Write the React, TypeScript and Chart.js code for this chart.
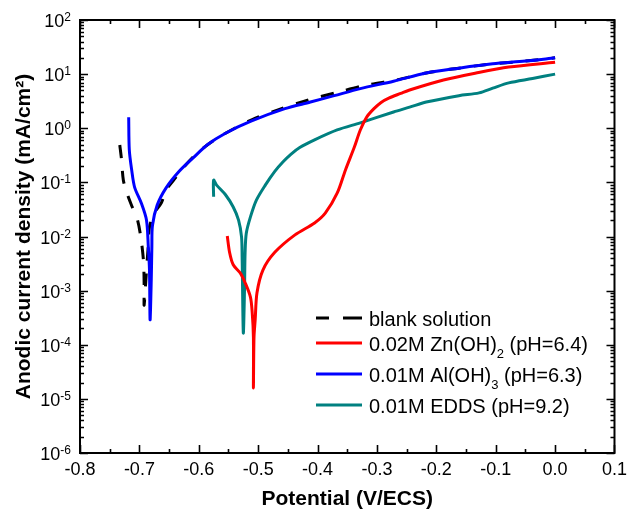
import React, { useEffect, useRef } from "react";
import { Chart, registerables } from "chart.js";

Chart.register(...registerables);

// ---------- data (potential in V/ECS, current density in mA/cm²) ----------
const blankV = [
  -0.733, -0.730, -0.727, -0.720, -0.712, -0.703, -0.697, -0.693, -0.692, -0.692,
  -0.688, -0.685, -0.683, -0.675, -0.663, -0.655, -0.638, -0.622, -0.605, -0.588,
  -0.563, -0.510, -0.463, -0.415, -0.367, -0.317, -0.267, -0.217, -0.162, -0.105,
  -0.050, 0.0,
];
const blankI = [
  0.49, 0.26, 0.11, 0.059, 0.035, 0.020, 0.0087, 0.0034, 0.00126, 0.00054,
  0.0024, 0.0069, 0.015, 0.027, 0.042, 0.072, 0.126, 0.21, 0.33, 0.47,
  0.72, 1.45, 2.25, 3.35, 4.6, 6.3, 7.8, 10.5, 12.9, 15.5,
  17.4, 20,
];

const znV = [
  -0.552, -0.548, -0.542, -0.530, -0.522, -0.513, -0.510, -0.508, -0.508,
  -0.507, -0.505, -0.502, -0.492, -0.472, -0.438, -0.405, -0.387, -0.367, -0.353,
  -0.338, -0.328, -0.317, -0.305, -0.293, -0.280, -0.260, -0.245, -0.188, -0.133,
  -0.078, 0.0,
];
const znI = [
  0.0102, 0.0050, 0.0030, 0.0021, 0.0014, 0.00076, 0.00039, 0.000138, 0.0000158,
  0.000138, 0.00029, 0.00091, 0.0024, 0.0051, 0.0107, 0.0178, 0.027, 0.063, 0.17,
  0.45, 0.93, 1.62, 2.3, 3.0, 3.6, 4.4, 5.1, 7.8, 10.5,
  13.5, 16.6,
];

const alV = [
  -0.718, -0.717, -0.713, -0.708, -0.697, -0.688, -0.685, -0.683, -0.682,
  -0.680, -0.679, -0.678, -0.670, -0.655, -0.633, -0.610, -0.585, -0.555, -0.512,
  -0.455, -0.412, -0.372, -0.328, -0.272, -0.217, -0.162, -0.105, -0.050, 0.0,
];
const alI = [
  1.6, 0.40, 0.17, 0.081, 0.042, 0.020, 0.0065, 0.0024, 0.00029,
  0.0016, 0.0065, 0.016, 0.038, 0.079, 0.16, 0.28, 0.50, 0.81, 1.35,
  2.3, 3.05, 4.0, 5.4, 7.4, 10.5, 12.9, 15.5, 17.4, 20,
];

const eddsV = [
  -0.575, -0.575, -0.570, -0.555, -0.542, -0.533, -0.528, -0.527, -0.525,
  -0.523, -0.522, -0.520, -0.513, -0.503, -0.488, -0.472, -0.458, -0.445, -0.430,
  -0.405, -0.367, -0.328, -0.272, -0.245, -0.217, -0.162, -0.128, -0.105, -0.078,
  -0.038, 0.0,
];
const eddsI = [
  0.054, 0.11, 0.089, 0.059, 0.035, 0.020, 0.0098, 0.0042, 0.000166,
  0.00102, 0.0050, 0.0115, 0.023, 0.047, 0.089, 0.16, 0.24, 0.33, 0.44,
  0.61, 0.93, 1.26, 2.0, 2.45, 3.05, 4.0, 4.5, 5.5, 6.9,
  8.3, 10,
];

const xTickValues = [-0.8, -0.7, -0.6, -0.5, -0.4, -0.3, -0.2, -0.1, 0.0, 0.1];
const yTickExponents = [-6, -5, -4, -3, -2, -1, 0, 1, 2];

const seriesColors = ["#000000", "#ff0000", "#0000ff", "#008080"];
const legendLabels = [
  [{ t: "blank solution" }],
  [{ t: "0.02M Zn(OH)" }, { t: "2", sub: true }, { t: " (pH=6.4)" }],
  [{ t: "0.01M Al(OH)" }, { t: "3", sub: true }, { t: " (pH=6.3)" }],
  [{ t: "0.01M EDDS (pH=9.2)" }],
];

const FONT = "'Liberation Sans', Arial, Helvetica, sans-serif";

function pts(xs: number[], ys: number[]) {
  return xs.map((x, i) => ({ x, y: ys[i] }));
}

const decorPlugin = {
  id: "decor",
  afterDatasetsDraw(chart: any) {
    const ctx = chart.ctx as CanvasRenderingContext2D;
    const area = chart.chartArea;
    const xs = chart.scales.x;
    const ys = chart.scales.y;
    ctx.save();
    ctx.strokeStyle = "#000";
    ctx.fillStyle = "#000";

    // frame
    ctx.lineWidth = 2;
    ctx.strokeRect(area.left, area.top, area.right - area.left, area.bottom - area.top);

    // x ticks (bottom and top, inward)
    ctx.lineWidth = 1.6;
    const drawX = (v: number, len: number) => {
      const px = Math.round(xs.getPixelForValue(v)) + 0.5;
      ctx.beginPath();
      ctx.moveTo(px, area.bottom);
      ctx.lineTo(px, area.bottom - len);
      ctx.moveTo(px, area.top);
      ctx.lineTo(px, area.top + len);
      ctx.stroke();
    };
    xTickValues.forEach((v, i) => {
      drawX(v, 8);
      if (i < xTickValues.length - 1) drawX((v + xTickValues[i + 1]) / 2, 4);
    });

    // y ticks (left and right, inward)
    const drawY = (v: number, len: number) => {
      const py = Math.round(ys.getPixelForValue(v)) + 0.5;
      ctx.beginPath();
      ctx.moveTo(area.left, py);
      ctx.lineTo(area.left + len, py);
      ctx.moveTo(area.right, py);
      ctx.lineTo(area.right - len, py);
      ctx.stroke();
    };
    yTickExponents.forEach((e, i) => {
      const base = Math.pow(10, e);
      drawY(base, 8);
      if (i < yTickExponents.length - 1) {
        for (let k = 2; k <= 9; k++) drawY(k * base, 4);
      }
    });

    // y tick labels 10^n
    ctx.textBaseline = "alphabetic";
    ctx.textAlign = "left";
    const rightEdge = 71;
    yTickExponents.forEach((e) => {
      const py = ys.getPixelForValue(Math.pow(10, e));
      const expText = e < 0 ? "-" + Math.abs(e) : String(e);
      ctx.font = `12px ${FONT}`;
      const ew = ctx.measureText(expText).width;
      ctx.font = `18px ${FONT}`;
      const bw = ctx.measureText("10").width;
      ctx.fillText("10", rightEdge - ew - bw, py + 7);
      ctx.font = `12px ${FONT}`;
      ctx.fillText(expText, rightEdge - ew, py + 1);
    });

    // legend
    const rowsY = [318, 343, 374, 405];
    const lineX0 = 316;
    const lineX1 = 362;
    const textX = 369;
    rowsY.forEach((ry, i) => {
      ctx.strokeStyle = seriesColors[i];
      ctx.lineWidth = 3;
      ctx.beginPath();
      if (i === 0) {
        ctx.moveTo(lineX0, ry);
        ctx.lineTo(lineX0 + 13, ry);
        ctx.moveTo(lineX0 + 27, ry);
        ctx.lineTo(lineX1, ry);
      } else {
        ctx.moveTo(lineX0, ry);
        ctx.lineTo(lineX1, ry);
      }
      ctx.stroke();
      let tx = textX;
      ctx.fillStyle = "#000";
      legendLabels[i].forEach((seg: any) => {
        if (seg.sub) {
          ctx.font = `13px ${FONT}`;
          ctx.fillText(seg.t, tx, ry + 15);
        } else {
          ctx.font = `20px ${FONT}`;
          ctx.fillText(seg.t, tx, ry + 7.5);
        }
        tx += ctx.measureText(seg.t).width;
      });
    });

    ctx.restore();
  },
};

export default function App() {
  const canvasRef = useRef<HTMLCanvasElement | null>(null);

  useEffect(() => {
    if (!canvasRef.current) return;
    Chart.defaults.font.family = FONT;
    Chart.defaults.color = "#000";
    const common = {
      showLine: true,
      borderWidth: 3,
      pointRadius: 0,
      tension: 0.3,
    };
    const chart = new Chart(canvasRef.current, {
      type: "scatter",
      data: {
        datasets: [
          {
            ...common,
            label: "blank solution",
            data: pts(blankV, blankI),
            borderColor: seriesColors[0],
            backgroundColor: seriesColors[0],
            borderDash: [13, 13],
            order: 3,
          },
          {
            ...common,
            label: "0.02M Zn(OH)2 (pH=6.4)",
            data: pts(znV, znI),
            borderColor: seriesColors[1],
            backgroundColor: seriesColors[1],
            order: 1,
          },
          {
            ...common,
            label: "0.01M Al(OH)3 (pH=6.3)",
            data: pts(alV, alI),
            borderColor: seriesColors[2],
            backgroundColor: seriesColors[2],
            order: 0,
          },
          {
            ...common,
            label: "0.01M EDDS (pH=9.2)",
            data: pts(eddsV, eddsI),
            borderColor: seriesColors[3],
            backgroundColor: seriesColors[3],
            order: 2,
          },
        ],
      },
      options: {
        responsive: false,
        animation: false,
        devicePixelRatio: 1,
        layout: { padding: { top: 20, right: 13, left: 0, bottom: 0 } },
        plugins: {
          legend: { display: false },
          tooltip: { enabled: false },
        },
        scales: {
          x: {
            type: "linear",
            min: -0.8,
            max: 0.1,
            afterFit: (s: any) => {
              s.height = 68;
            },
            afterBuildTicks: (s: any) => {
              s.ticks = xTickValues.map((v) => ({ value: v }));
            },
            grid: { display: false, drawTicks: false, tickLength: 0 },
            border: { display: false },
            ticks: {
              padding: 6,
              maxRotation: 0,
              autoSkip: false,
              color: "#000",
              font: { size: 18, family: FONT },
              callback: (v: any) => {
                const n = Number(v);
                return Math.abs(n) < 1e-9 ? "0.0" : n.toFixed(1);
              },
            },
            title: {
              display: true,
              text: "Potential (V/ECS)",
              color: "#000",
              font: { size: 21, weight: "bold", family: FONT },
              padding: { top: 0, bottom: 9 },
            },
          },
          y: {
            type: "logarithmic",
            min: 1e-6,
            max: 1e2,
            afterFit: (s: any) => {
              s.width = 80;
            },
            grid: { display: false, drawTicks: false, tickLength: 0 },
            border: { display: false },
            ticks: { display: false },
            title: {
              display: true,
              text: "Anodic current density (mA/cm²)",
              color: "#000",
              font: { size: 21, weight: "bold", family: FONT },
              padding: { top: 12, bottom: 0 },
            },
          },
        },
      },
      plugins: [decorPlugin],
    } as any);
    return () => chart.destroy();
  }, []);

  return (
    <div style={{ position: "fixed", left: 0, top: 0, width: 633, height: 521, background: "#fff" }}>
      <canvas ref={canvasRef} width={633} height={521} style={{ display: "block" }} />
    </div>
  );
}
